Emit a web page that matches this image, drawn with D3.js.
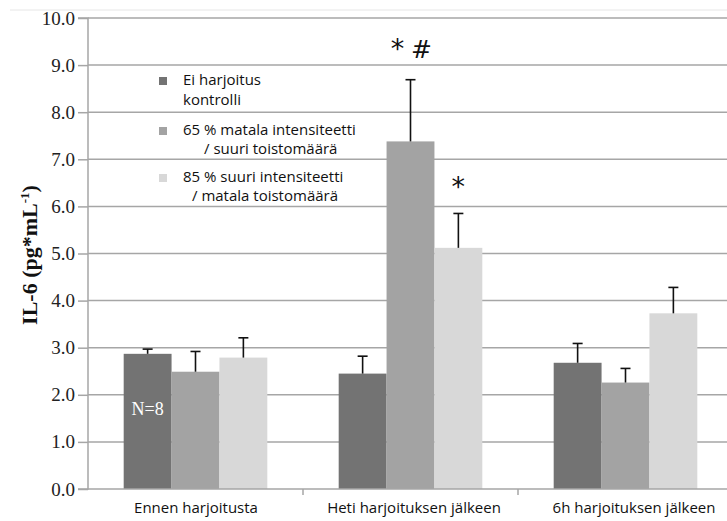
<!DOCTYPE html>
<html><head><meta charset="utf-8">
<script src="https://cdn.jsdelivr.net/npm/d3@7/dist/d3.min.js"></script>
<style>body{margin:0;background:#fff}svg{display:block}</style>
</head><body><svg id="c" width="727" height="521"></svg>
<script>
const categories = ["Ennen harjoitusta", "Heti harjoituksen jälkeen", "6h harjoituksen jälkeen"];
const seriesNames = [["Ei harjoitus", "kontrolli"], ["65 % matala intensiteetti", "/ suuri toistomäärä"], ["85 % suuri intensiteetti", "/ matala toistomäärä"]];
const control = [2.87, 2.45, 2.68];
const low65 = [2.49, 7.38, 2.26];
const high85 = [2.79, 5.12, 3.73];
const controlErr = [0.1, 0.37, 0.41];
const low65Err = [0.43, 1.31, 0.3];
const high85Err = [0.42, 0.73, 0.55];
const yTicks = [0, 1, 2, 3, 4, 5, 6, 7, 8, 9, 10];
const colors = ["#737373", "#a3a3a3", "#d8d8d8"];

const svg = d3.select("#c");
const x0 = 88, yBottom = 489, yTop = 18;
const y = d3.scaleLinear().domain([0, 10]).range([yBottom, yTop]);
const xb = d3.scaleBand().domain(categories).range([x0, 733]).paddingInner(0).paddingOuter(0);
const groupPad = 0.166;
const xs = d3.scaleBand().domain([0, 1, 2]).range([xb.bandwidth() * groupPad, xb.bandwidth() * (1 - groupPad)]);

// faint top border line
svg.append("line").attr("x1", 10).attr("x2", 727).attr("y1", 10).attr("y2", 10).attr("stroke", "#e6e6e6").attr("stroke-width", 1);

// grid
svg.append("g").selectAll("line").data(yTicks.filter(d => d > 0)).join("line")
  .attr("x1", x0).attr("x2", 727).attr("y1", d => y(d)).attr("y2", d => y(d))
  .attr("stroke", "#a6a6a6").attr("stroke-width", 1.5);

// y axis
const yAxis = d3.axisLeft(y).tickValues(yTicks).tickFormat(d3.format(".1f")).tickSize(10).tickPadding(3);
const gy = svg.append("g").attr("transform", `translate(${x0},0)`).call(yAxis);
gy.select(".domain").attr("stroke", "#a6a6a6").attr("stroke-width", 1.5).attr("d", `M-10,${yTop}H0V${yBottom}H-10`);
gy.selectAll(".tick line").attr("stroke", "#a6a6a6").attr("stroke-width", 1.5);
gy.selectAll(".tick text").attr("font-family", "Liberation Serif, serif").attr("font-size", 19).attr("fill", "#222");

// bars
const series = [control, low65, high85];
const errs = [controlErr, low65Err, high85Err];
const flat = [];
categories.forEach((c, i) => series.forEach((s, j) => flat.push({c, j, v: s[i], e: errs[j][i]})));
const bars = svg.append("g");
bars.selectAll("rect").data(flat).join("rect")
  .attr("x", d => xb(d.c) + xs(d.j)).attr("width", xs.bandwidth())
  .attr("y", d => y(d.v)).attr("height", d => y(0) - y(d.v))
  .attr("fill", d => colors[d.j]);

// error bars
const eb = svg.append("g").attr("stroke", "#111").attr("stroke-width", 1.6);
flat.forEach(d => {
  const cx = xb(d.c) + xs(d.j) + xs.bandwidth() / 2;
  eb.append("line").attr("x1", cx).attr("x2", cx).attr("y1", y(d.v)).attr("y2", y(d.v + d.e));
  eb.append("line").attr("x1", cx - 5).attr("x2", cx + 5).attr("y1", y(d.v + d.e)).attr("y2", y(d.v + d.e));
});

// x axis
svg.append("line").attr("x1", x0).attr("x2", 727).attr("y1", yBottom).attr("y2", yBottom).attr("stroke", "#a6a6a6").attr("stroke-width", 1.5);
svg.append("g").selectAll("line").data(categories.slice(1)).join("line")
  .attr("x1", d => xb(d)).attr("x2", d => xb(d)).attr("y1", yBottom).attr("y2", yBottom + 6)
  .attr("stroke", "#a6a6a6").attr("stroke-width", 1.5);
const labelShift = [0.5, 3.5, 8.5];
svg.append("g").selectAll("text").data(categories).join("text")
  .attr("x", (d, i) => xb(d) + xb.bandwidth() / 2 + labelShift[i]).attr("y", 513)
  .attr("text-anchor", "middle").attr("font-family", "Open Sans, sans-serif").attr("font-size", 15).attr("fill", "#111")
  .text(d => d);

// y title
svg.append("text").attr("transform", "translate(37,255) rotate(-90)").attr("text-anchor", "middle")
  .attr("font-family", "Liberation Serif, serif").attr("font-weight", "bold").attr("font-size", 22).attr("fill", "#111")
  .call(t => { t.append("tspan").text("IL-6 (pg*mL"); t.append("tspan").attr("dy", -8).attr("font-size", 13).text("-1"); t.append("tspan").attr("dy", 8).text(")"); });

// N=8
svg.append("text").attr("x", xb(categories[0]) + xs(0) + xs.bandwidth() / 2).attr("y", 415).attr("text-anchor", "middle")
  .attr("font-family", "Liberation Serif, serif").attr("font-size", 18).attr("fill", "#fff").text("N=8");

// significance markers
const sig = svg.append("g").attr("font-family", "DejaVu Sans, sans-serif").attr("fill", "#111");
sig.append("text").attr("x", xb(categories[1]) + xs(1) + 11).attr("y", 58).attr("font-size", 27).attr("text-anchor", "middle").text("*");
sig.append("text").attr("x", xb(categories[1]) + xs(1) + 35).attr("y", 58).attr("font-size", 25).attr("text-anchor", "middle").text("#");
sig.append("text").attr("x", xb(categories[1]) + xs(2) + xs.bandwidth() / 2).attr("y", 196).attr("font-size", 27).attr("text-anchor", "middle").text("*");

// legend
const leg = svg.append("g").attr("font-family", "Open Sans, sans-serif").attr("font-size", 15).attr("fill", "#111");
const legY = [85, 135, 182];
const legLine2 = [[183, 105], [204, 154], [192, 201]];
seriesNames.forEach((n, i) => {
  leg.append("rect").attr("x", 159).attr("y", legY[i] - 8).attr("width", 8).attr("height", 8).attr("fill", colors[i]);
  leg.append("text").attr("x", 183).attr("y", legY[i]).text(n[0]);
  leg.append("text").attr("x", legLine2[i][0]).attr("y", legLine2[i][1]).text(n[1]);
});
</script></body></html>
